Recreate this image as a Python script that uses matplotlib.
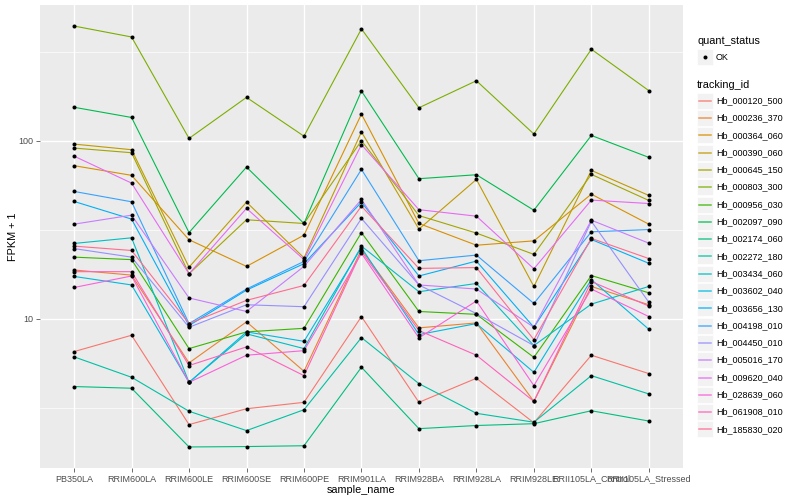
import matplotlib
matplotlib.use('Agg')
import matplotlib.pyplot as plt
from matplotlib.patches import Rectangle
from matplotlib.lines import Line2D
import numpy as np

plt.rcParams['font.family'] = ['Liberation Sans', 'DejaVu Sans']

samples = ['PB350LA', 'RRIM600LA', 'RRIM600LE', 'RRIM600SE', 'RRIM600PE', 'RRIM901LA',
           'RRIM928BA', 'RRIM928LA', 'RRIM928LE', 'RRII105LA_Control', 'RRII105LA_Stressed']

tracking_ids = ['Hb_000120_500', 'Hb_000236_370', 'Hb_000364_060', 'Hb_000390_060',
                'Hb_000645_150', 'Hb_000803_300', 'Hb_000956_030', 'Hb_002097_090',
                'Hb_002174_060', 'Hb_002272_180', 'Hb_003434_060', 'Hb_003602_040',
                'Hb_003656_130', 'Hb_004198_010', 'Hb_004450_010', 'Hb_005016_170',
                'Hb_009620_040', 'Hb_028639_060', 'Hb_061908_010', 'Hb_185830_020']

# FPKM + 1, one list per tracking_id, in sample order
hb_000120_500 = [6.55, 8.09, 2.55, 3.13, 3.40, 10.3, 3.40, 4.64, 2.61, 6.25, 4.93]
hb_000236_370 = [18.8, 17.6, 5.66, 9.62, 5.08, 24.5, 8.90, 9.49, 3.44, 15.2, 12.0]
hb_000364_060 = [72.4, 63.9, 27.8, 19.7, 29.5, 141, 34.3, 25.9, 27.4, 50.1, 34.0]
hb_000390_060 = [95.7, 89.0, 19.5, 45.2, 22.0, 112, 31.9, 60.6, 15.2, 68.1, 49.3]
hb_000645_150 = [90.9, 85.6, 17.9, 36.0, 34.3, 100, 38.0, 30.3, 23.0, 64.7, 46.2]
hb_000803_300 = [440, 382, 103, 175, 106, 424, 153, 217, 109, 326, 191]
hb_000956_030 = [22.2, 21.5, 6.81, 8.45, 8.85, 30.5, 11.0, 10.6, 6.08, 17.5, 14.0]
hb_002097_090 = [154, 135, 30.5, 71.1, 34.3, 190, 61.2, 64.4, 40.7, 107, 80.6]
hb_002174_060 = [4.17, 4.08, 1.91, 1.92, 1.94, 5.35, 2.42, 2.52, 2.58, 3.05, 2.67]
hb_002272_180 = [6.12, 4.70, 3.03, 2.36, 3.09, 7.85, 4.33, 2.95, 2.63, 4.80, 3.79]
hb_003434_060 = [26.5, 28.5, 4.40, 8.24, 6.81, 25.6, 14.2, 15.8, 7.08, 12.1, 15.2]
hb_003602_040 = [17.3, 15.5, 4.40, 8.45, 7.48, 25.1, 8.16, 9.41, 5.01, 16.6, 8.74]
hb_003656_130 = [45.6, 36.3, 9.17, 14.5, 20.4, 45.2, 17.4, 21.1, 8.97, 27.9, 20.5]
hb_004198_010 = [51.9, 45.4, 9.41, 14.7, 21.0, 69.0, 21.2, 22.8, 12.2, 30.8, 31.7]
hb_004450_010 = [24.8, 22.2, 8.97, 12.0, 11.7, 36.6, 15.5, 10.7, 7.08, 35.3, 12.4]
hb_005016_170 = [34.0, 38.2, 13.1, 11.0, 19.7, 46.8, 15.5, 14.7, 8.97, 35.8, 26.6]
hb_009620_040 = [81.9, 57.8, 17.9, 41.7, 21.5, 95.0, 41.0, 37.7, 19.1, 46.4, 44.4]
hb_028639_060 = [15.0, 17.4, 4.40, 6.25, 6.63, 23.3, 7.82, 12.6, 4.22, 14.7, 10.3]
hb_061908_010 = [18.4, 18.4, 5.47, 6.96, 4.80, 23.9, 8.60, 6.25, 3.44, 16.2, 11.8]
hb_185830_020 = [25.6, 24.2, 9.41, 12.7, 15.4, 42.9, 19.2, 19.4, 7.65, 28.3, 21.8]

series = [hb_000120_500, hb_000236_370, hb_000364_060, hb_000390_060, hb_000645_150,
          hb_000803_300, hb_000956_030, hb_002097_090, hb_002174_060, hb_002272_180,
          hb_003434_060, hb_003602_040, hb_003656_130, hb_004198_010, hb_004450_010,
          hb_005016_170, hb_009620_040, hb_028639_060, hb_061908_010, hb_185830_020]

# ggplot default hue palette for 20 levels
colors = ['#F8766D', '#EA8331', '#D89000', '#C09B00', '#A3A500', '#7CAE00', '#39B600',
          '#00BB4E', '#00BF7D', '#00C1A3', '#00BFC4', '#00BAE0', '#00B0F6', '#35A2FF',
          '#9590FF', '#C77CFF', '#E76BF3', '#FA62DB', '#FF62BC', '#FF6C91']

W, H = 800, 500
fig = plt.figure(figsize=(8, 5), dpi=100)
fig.patch.set_facecolor('white')
ax = fig.add_axes([39.6/W, 32/H, (683.3-39.6)/W, 463/H])
ax.set_facecolor('#EBEBEB')

x = np.arange(len(samples))
for vals, c in zip(series, colors):
    ax.plot(x, vals, color=c, lw=0.8, zorder=2)
for vals in series:
    ax.plot(x, vals, 'o', color='black', ms=2.9, mew=0, zorder=3)

ax.set_yscale('log')
allv = np.log10(np.concatenate([np.array(s) for s in series]))
lo, hi = allv.min(), allv.max()
pad = 0.05*(hi-lo)
ax.set_ylim(10**(lo-pad), 10**(hi+pad))
ax.set_xlim(-0.6, len(samples)-0.4)

ax.set_yticks([10, 100])
ax.set_yticklabels(['10', '100'])
ax.set_yticks([10**0.5, 10**1.5, 10**2.5], minor=True)
ax.yaxis.set_minor_formatter(matplotlib.ticker.NullFormatter())
ax.set_xticks(x)
ax.set_xticklabels(samples)

ax.grid(True, which='major', color='white', lw=1.0, zorder=0)
ax.yaxis.grid(True, which='minor', color='white', lw=0.5, zorder=0)
ax.set_axisbelow(True)
for s in ax.spines.values():
    s.set_visible(False)
ax.tick_params(which='major', length=2.7, width=0.5, color='#333333',
               labelcolor='#4D4D4D', labelsize=6.5, pad=2)
ax.tick_params(which='minor', length=0)

ax.set_xlabel('sample_name', fontsize=7.8, labelpad=1)
ax.set_ylabel('FPKM + 1', fontsize=7.8, labelpad=0)

# legends drawn by hand to match the ggplot layout
def fx(px):
    return px/W

def fy(py):
    return 1 - py/H

fig.text(fx(697), fy(41), 'quant_status', fontsize=7.8, va='center', ha='left')
fig.add_artist(Rectangle((fx(697), fy(65)), 16/W, 16/H, transform=fig.transFigure,
                         facecolor='#F2F2F2', edgecolor='white', lw=0.5))
fig.add_artist(Line2D([fx(705)], [fy(57)], marker='o', color='black', ms=2.9, mew=0,
                      transform=fig.transFigure))
fig.text(fx(716), fy(57), 'OK', fontsize=6.5, va='center', ha='left')

fig.text(fx(697), fy(85), 'tracking_id', fontsize=7.8, va='center', ha='left')
for i, (tid, c) in enumerate(zip(tracking_ids, colors)):
    yc = 100.7 + i*17.3
    fig.add_artist(Rectangle((fx(697), fy(yc+8)), 16/W, 16/H, transform=fig.transFigure,
                             facecolor='#F2F2F2', edgecolor='white', lw=0.5))
    fig.add_artist(Line2D([fx(699), fx(711)], [fy(yc), fy(yc)], color=c, lw=1.1,
                          alpha=0.8, transform=fig.transFigure))
    fig.text(fx(716), fy(yc), tid, fontsize=6.5, va='center', ha='left')

fig.savefig('out.png', dpi=100)
